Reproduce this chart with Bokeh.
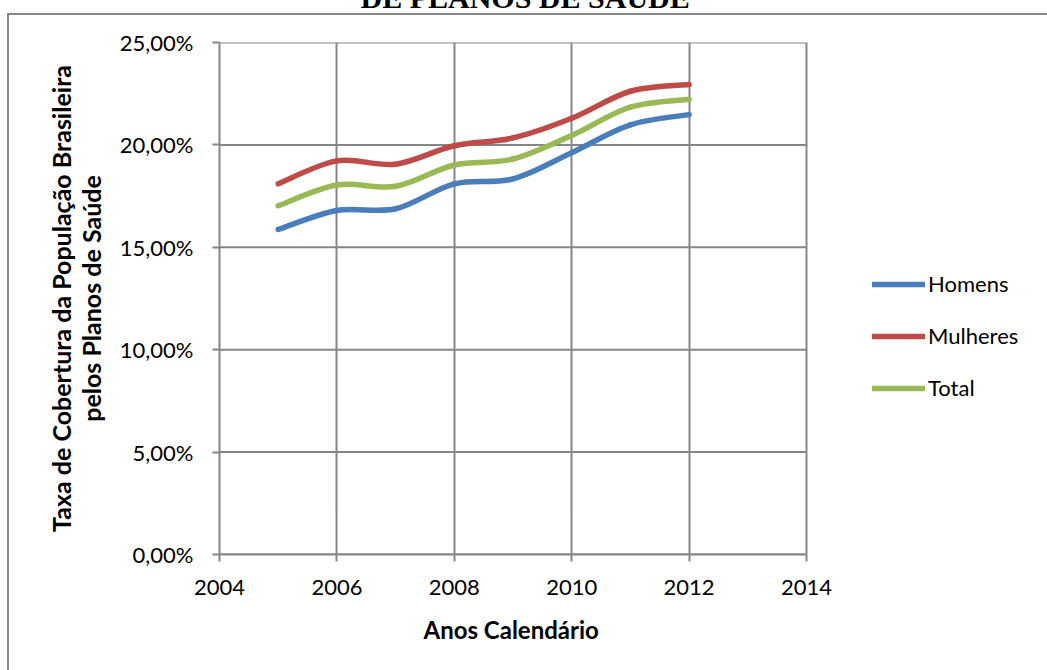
from bokeh.plotting import figure
from bokeh.models import (Range1d, FixedTicker, CustomJSTickFormatter, Legend, LegendItem,
                          LinearAxis, ColumnDataSource, Title)
from bokeh.embed import file_html
from bokeh.resources import INLINE

# ---- data ----
years = [2005, 2006, 2007, 2008, 2009, 2010, 2011, 2012]
homens = [15.87, 16.80, 16.88, 18.10, 18.34, 19.62, 20.98, 21.48]
mulheres = [18.10, 19.22, 19.06, 19.96, 20.34, 21.30, 22.62, 22.95]
total = [17.03, 18.04, 17.98, 19.02, 19.31, 20.46, 21.84, 22.23]
series_names = ["Homens", "Mulheres", "Total"]
series_colors = ["#4A7EBB", "#BE4B48", "#98B954"]
x_ticks = [2004, 2006, 2008, 2010, 2012, 2014]
y_ticks = [0, 5, 10, 15, 20, 25]
title_text = "DE PLANOS DE SAÚDE"
x_title = "Anos Calendário"
y_title_1 = "Taxa de Cobertura da População Brasileira"
y_title_2 = "pelos Planos de Saúde"

S = 60                     # part of the canvas that lies above the window top
W, H = 1047, 670 + S
FONT = "Lato"
GRID = "#868686"
PLOT_L, PLOT_R = 219, 806  # pixel span of the 2004..2014 axis
x_lo, x_hi = x_ticks[0], x_ticks[-1]
x_end = x_hi + (W - PLOT_R) * (x_hi - x_lo) / (PLOT_R - PLOT_L)   # frame continues under the legend

p = figure(width=W, height=H, output_backend="svg", toolbar_location=None,
           x_range=Range1d(x_lo, x_end), y_range=Range1d(y_ticks[0], y_ticks[-1]),
           min_border_left=PLOT_L, min_border_right=0,
           min_border_top=42 + S, min_border_bottom=H - (554 + S))
p.outline_line_color = None
p.background_fill_color = "white"
p.border_fill_color = None
p.styles = {
    "margin-top": f"-{S}px",
    "background": (f"linear-gradient({GRID},{GRID}) 7px {13 + S}px / 100% 2px no-repeat, "
                   f"linear-gradient({GRID},{GRID}) 7px {13 + S}px / 2px 100% no-repeat"),
}

p.title.text = title_text
p.title.align = "left"
p.title.offset = 360 - PLOT_L
p.title.standoff = 58
p.title.text_font = "Liberation Serif"
p.title.text_font_style = "bold"
p.title.text_font_size = "30px"
p.title.text_color = "black"

for ax in (p.xaxis[0], p.yaxis[0]):
    ax.axis_line_color = GRID
    ax.axis_line_width = 2
    ax.major_tick_line_color = GRID
    ax.major_tick_line_width = 2
    ax.major_tick_out = 7
    ax.major_tick_in = 0
    ax.minor_tick_line_color = None
    ax.major_label_text_font = FONT
    ax.major_label_text_font_size = "22px"
    ax.major_label_text_color = "black"
    ax.axis_label_text_font = FONT
    ax.axis_label_text_font_style = "bold"
    ax.axis_label_text_font_size = "25px"
    ax.axis_label_text_color = "black"

p.xaxis.ticker = FixedTicker(ticks=x_ticks)
p.xaxis.bounds = (x_lo, x_hi)
p.yaxis.ticker = FixedTicker(ticks=y_ticks)
p.yaxis.formatter = CustomJSTickFormatter(code="return tick.toFixed(2).replace('.', ',') + '%';")
p.xaxis.major_label_standoff = 18
p.yaxis.major_label_standoff = 19
p.yaxis.axis_label = y_title_2
p.yaxis.axis_label_standoff = 11

outer = LinearAxis(ticker=FixedTicker(ticks=[]), axis_line_color=None,
                   major_tick_out=0, major_tick_in=0, major_label_standoff=0,
                   minor_tick_line_color=None, major_tick_line_color=None,
                   axis_label=y_title_1, axis_label_standoff=-3,
                   axis_label_text_font=FONT, axis_label_text_font_style="bold",
                   axis_label_text_font_size="25px", axis_label_text_color="black")
p.add_layout(outer, "left")

xt = Title(text=x_title, align="left", offset=423 - PLOT_L, standoff=31,
           text_font=FONT, text_font_style="bold", text_font_size="24px", text_color="black")
p.add_layout(xt, "below")

# vertical grid lines at the x ticks, horizontal ones drawn across the 2004..2014 span
p.xgrid.ticker = FixedTicker(ticks=x_ticks)
p.xgrid.grid_line_color = GRID
p.xgrid.grid_line_width = 2
p.ygrid.grid_line_color = None
p.segment(x0=[x_lo] * len(y_ticks), x1=[x_hi] * len(y_ticks), y0=y_ticks, y1=y_ticks,
          line_color=GRID, line_width=2)


def smooth(xs, ys):
    # Bezier control points of a smoothed line through the data points
    n = len(xs)
    x0, y0, x1, y1, cx0, cy0, cx1, cy1 = [], [], [], [], [], [], [], []
    for i in range(n - 1):
        xa, ya = xs[i], ys[i]
        xb, yb = xs[i + 1], ys[i + 1]
        xp, yp = (xs[i - 1], ys[i - 1]) if i > 0 else (xa, ya)
        xn, yn = (xs[i + 2], ys[i + 2]) if i + 2 < n else (xb, yb)
        x0.append(xa); y0.append(ya); x1.append(xb); y1.append(yb)
        cx0.append(xa + (xb - xp) / 6.0); cy0.append(ya + (yb - yp) / 6.0)
        cx1.append(xb - (xn - xa) / 6.0); cy1.append(yb - (yn - ya) / 6.0)
    return dict(x0=x0, y0=y0, x1=x1, y1=y1, cx0=cx0, cy0=cy0, cx1=cx1, cy1=cy1)


items = []
for name, ys, col in zip(series_names, [homens, mulheres, total], series_colors):
    src = ColumnDataSource(smooth(years, ys))
    r = p.bezier(x0="x0", y0="y0", x1="x1", y1="y1", cx0="cx0", cy0="cy0",
                 cx1="cx1", cy1="cy1", source=src, line_color=col, line_width=5.5,
                 line_cap="round")
    items.append(LegendItem(label=name, renderers=[r]))

legend = Legend(items=items, location=(653, 153), glyph_width=53, glyph_height=22,
                label_height=22, spacing=25, label_standoff=3, padding=0, margin=0,
                border_line_color=None, background_fill_alpha=0,
                label_text_font=FONT, label_text_font_size="22px", label_text_color="black")
p.add_layout(legend)

open("out.html", "w").write(file_html(p, INLINE))
